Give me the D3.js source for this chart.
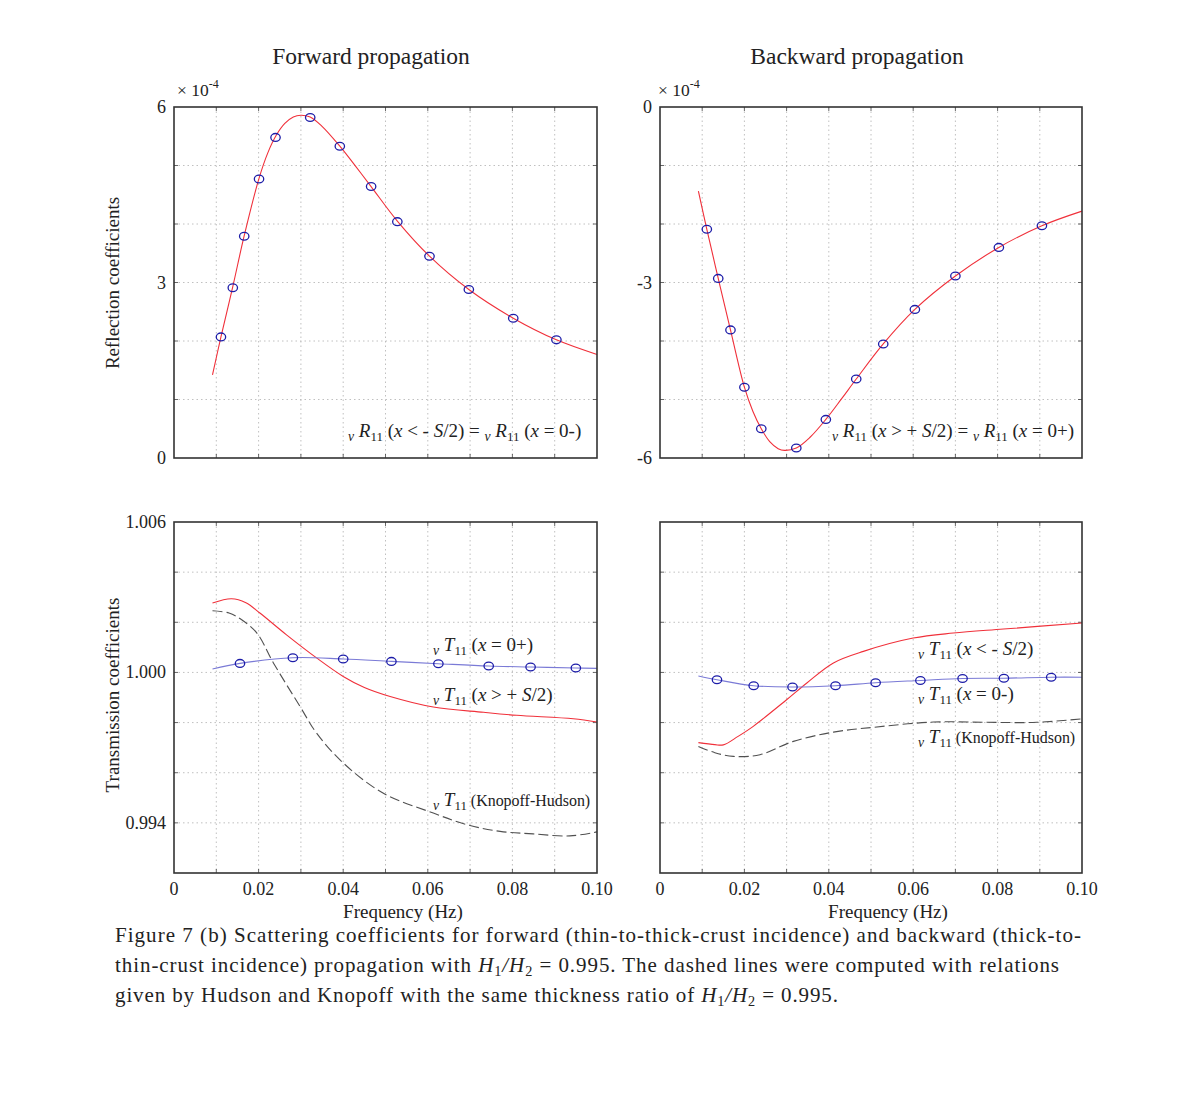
<!DOCTYPE html>
<html>
<head>
<meta charset="utf-8">
<script src="https://cdn.jsdelivr.net/npm/d3@7"></script>
<style>
  body { margin: 0; background: #fff; }
  text { font-family: "Liberation Serif", "DejaVu Serif", serif; fill: #222; }
</style>
</head>
<body>
<div id="chart"></div>
<script>
// ---- data (frequency in Hz) ----
const freqTicks = [0, 0.02, 0.04, 0.06, 0.08, 0.10];

// forward reflection (x 1e-4)
const fwdRLineF = [0.0091, 0.0111, 0.0139, 0.0166, 0.0201, 0.0222, 0.0242, 0.0262, 0.0282, 0.0300, 0.0322, 0.0350, 0.0392, 0.0430, 0.0466, 0.0528, 0.0604, 0.0697, 0.0802, 0.0904, 0.1000];
const fwdRLineV = [1.42, 2.07, 2.93, 3.80, 4.78, 5.22, 5.52, 5.72, 5.83, 5.86, 5.83, 5.67, 5.33, 4.98, 4.64, 4.05, 3.45, 2.88, 2.39, 2.02, 1.77];
const fwdRDotF = [0.0111, 0.0139, 0.0166, 0.0201, 0.0240, 0.0322, 0.0392, 0.0466, 0.0528, 0.0604, 0.0697, 0.0802, 0.0904];
const fwdRDotV = [2.07, 2.91, 3.79, 4.77, 5.48, 5.82, 5.33, 4.64, 4.04, 3.45, 2.88, 2.39, 2.02];

// backward reflection (x 1e-4)
const bwdRLineF = [0.0091, 0.0111, 0.0138, 0.0167, 0.0200, 0.0220, 0.0240, 0.0260, 0.0280, 0.0295, 0.0323, 0.0355, 0.0393, 0.0430, 0.0465, 0.0529, 0.0604, 0.0700, 0.0803, 0.0905, 0.1000];
const bwdRLineV = [-1.44, -2.09, -2.93, -3.81, -4.79, -5.20, -5.50, -5.72, -5.84, -5.87, -5.83, -5.65, -5.34, -4.99, -4.65, -4.05, -3.46, -2.89, -2.40, -2.03, -1.78];
const bwdRDotF = [0.0111, 0.0138, 0.0167, 0.0200, 0.0240, 0.0323, 0.0393, 0.0465, 0.0529, 0.0604, 0.0700, 0.0803, 0.0905];
const bwdRDotV = [-2.09, -2.93, -3.81, -4.79, -5.50, -5.83, -5.34, -4.65, -4.05, -3.46, -2.89, -2.40, -2.03];

// forward transmission
const fwdTPlusF = [0.0091, 0.0136, 0.0170, 0.0203, 0.0266, 0.0337, 0.0400, 0.0450, 0.0511, 0.0613, 0.0732, 0.0810, 0.0944, 0.1000];
const fwdTPlusV = [1.00277, 1.00294, 1.00278, 1.00237, 1.00150, 1.00058, 0.99984, 0.99940, 0.99904, 0.99862, 0.99841, 0.99829, 0.99815, 0.99802];
const fwdT0F = [0.0091, 0.0156, 0.0281, 0.0400, 0.0514, 0.0625, 0.0744, 0.0843, 0.0950, 0.1000];
const fwdT0V = [1.000136, 1.000360, 1.000587, 1.000535, 1.000440, 1.000348, 1.000255, 1.000216, 1.000176, 1.000160];
const fwdT0DotF = [0.0156, 0.0281, 0.0400, 0.0514, 0.0625, 0.0744, 0.0843, 0.0950];
const fwdT0DotV = [1.000360, 1.000587, 1.000535, 1.000440, 1.000348, 1.000255, 1.000216, 1.000176];
const fwdKHF = [0.0091, 0.0130, 0.0160, 0.0196, 0.0235, 0.0298, 0.0337, 0.0400, 0.0494, 0.0613, 0.0692, 0.0771, 0.0849, 0.0936, 0.1000];
const fwdKHV = [1.00246, 1.00237, 1.00210, 1.00157, 1.00038, 0.99864, 0.99758, 0.99639, 0.99519, 0.99439, 0.99393, 0.99366, 0.99356, 0.99348, 0.99364];

// backward transmission
const bwdTMinusF = [0.0091, 0.0130, 0.0150, 0.0185, 0.0221, 0.0300, 0.0348, 0.0411, 0.0482, 0.0600, 0.0695, 0.0814, 0.1000];
const bwdTMinusV = [0.99720, 0.99712, 0.99711, 0.99745, 0.99785, 0.99891, 0.99958, 1.00038, 1.00084, 1.00137, 1.00157, 1.00173, 1.00197];
const bwdT0F = [0.0091, 0.0135, 0.0222, 0.0314, 0.0416, 0.0511, 0.0617, 0.0717, 0.0815, 0.0927, 0.1000];
const bwdT0V = [0.99986, 0.99971, 0.99947, 0.99942, 0.99947, 0.99959, 0.99968, 0.99976, 0.99977, 0.99981, 0.99981];
const bwdT0DotF = [0.0135, 0.0222, 0.0314, 0.0416, 0.0511, 0.0617, 0.0717, 0.0815, 0.0927];
const bwdT0DotV = [0.99971, 0.99947, 0.99942, 0.99947, 0.99959, 0.99968, 0.99976, 0.99977, 0.99981];
const bwdKHF = [0.0091, 0.0130, 0.0174, 0.0237, 0.0316, 0.0411, 0.0505, 0.0648, 0.0774, 0.0893, 0.1000];
const bwdKHV = [0.99705, 0.99680, 0.99665, 0.99672, 0.99725, 0.99762, 0.99781, 0.99802, 0.99801, 0.99801, 0.99815];

// y ticks
const reflFwdTicks = [0, 3, 6];
const reflBwdTicks = [-6, -3, 0];
const transTicks = [0.994, 1.000, 1.006];

(() => {
    const svg = d3.select("#chart").append("svg")
        .attr("width", 1200)
        .attr("height", 1094);

    const zip = (fs, vs) => fs.map((f, i) => ({ f, v: vs[i] }));

    // text with italic / subscript runs: parts = [[text, style]]
    function rich(g, x, y, parts, size) {
        const t = g.append("text").attr("x", x).attr("y", y).style("font-size", size + "px");
        let shift = 0;
        parts.forEach(([s, st]) => {
            const sp = t.append("tspan").text(s);
            let want = 0;
            if (st.includes("i")) sp.style("font-style", "italic");
            if (st.includes("v")) { want = 4; sp.style("font-size", (size * 0.72) + "px"); }
            if (st.includes("s")) { want = 4; sp.style("font-size", (size * 0.68) + "px"); }
            if (st.includes("k")) sp.style("font-size", (size * 0.84) + "px");
            if (want !== shift) { sp.attr("dy", want - shift); shift = want; }
        });
        return t;
    }

    function panel(box, yDomain, yTickVals, yFmt, showX) {
        const x = d3.scaleLinear().domain([0, 0.1]).range([box.x0, box.x1]);
        const y = d3.scaleLinear().domain(yDomain).range([box.y1, box.y0]);
        const g = svg.append("g");

        const xGrid = d3.range(1, 10).map(i => i * 0.01);
        const step = (yDomain[1] - yDomain[0]) / box.ny;
        const yGrid = d3.range(1, box.ny).map(i => yDomain[0] + i * step);

        // dotted grid
        g.selectAll(".gx").data(xGrid).enter().append("line")
            .attr("x1", d => x(d)).attr("x2", d => x(d))
            .attr("y1", box.y0).attr("y2", box.y1)
            .attr("stroke", "#b0b0b0").attr("stroke-width", 0.8)
            .attr("stroke-dasharray", "1.5,3");
        g.selectAll(".gy").data(yGrid).enter().append("line")
            .attr("x1", box.x0).attr("x2", box.x1)
            .attr("y1", d => y(d)).attr("y2", d => y(d))
            .attr("stroke", "#b0b0b0").attr("stroke-width", 0.8)
            .attr("stroke-dasharray", "1.5,3");

        // inward ticks on all four sides
        const tk = 4;
        [box.y1, box.y0].forEach((yy, k) => {
            g.selectAll(null).data(xGrid).enter().append("line")
                .attr("x1", d => x(d)).attr("x2", d => x(d))
                .attr("y1", yy).attr("y2", k ? yy + tk : yy - tk)
                .attr("stroke", "#444").attr("stroke-width", 0.8);
        });
        [box.x0, box.x1].forEach((xx, k) => {
            g.selectAll(null).data(yGrid).enter().append("line")
                .attr("x1", xx).attr("x2", k ? xx - tk : xx + tk)
                .attr("y1", d => y(d)).attr("y2", d => y(d))
                .attr("stroke", "#444").attr("stroke-width", 0.8);
        });

        // y tick labels
        if (yTickVals) {
            g.selectAll(".yl").data(yTickVals).enter().append("text")
                .attr("x", box.x0 - 8)
                .attr("y", d => y(d) + 6)
                .attr("text-anchor", "end")
                .style("font-size", "18px")
                .text(yFmt);
        }
        // x tick labels
        if (showX) {
            g.selectAll(".xl").data(freqTicks).enter().append("text")
                .attr("x", d => x(d))
                .attr("y", box.y1 + 22)
                .attr("text-anchor", "middle")
                .style("font-size", "18px")
                .text(d => d === 0 ? "0" : d.toFixed(2));
        }
        return { g, x, y };
    }

    function line(p, data, color, dash) {
        p.g.append("path")
            .datum(data)
            .attr("fill", "none")
            .attr("stroke", color)
            .attr("stroke-width", 1.1)
            .attr("stroke-dasharray", dash || null)
            .attr("d", d3.line().x(d => p.x(d.f)).y(d => p.y(d.v)).curve(d3.curveCatmullRom));
    }

    function dots(p, data) {
        p.g.selectAll(null).data(data).enter().append("ellipse")
            .attr("cx", d => p.x(d.f)).attr("cy", d => p.y(d.v))
            .attr("rx", 4.7).attr("ry", 3.9)
            .attr("fill", "none").attr("stroke", "#1c1ca8").attr("stroke-width", 1.3);
    }

    function frame(box) {
        svg.append("rect")
            .attr("x", box.x0).attr("y", box.y0)
            .attr("width", box.x1 - box.x0).attr("height", box.y1 - box.y0)
            .attr("fill", "none").attr("stroke", "#333").attr("stroke-width", 1.6);
    }

    const boxTL = { x0: 174, x1: 597, y0: 107, y1: 458, ny: 6 };
    const boxTR = { x0: 660, x1: 1082, y0: 107, y1: 458, ny: 6 };
    const boxBL = { x0: 174, x1: 597, y0: 522, y1: 873, ny: 7 };
    const boxBR = { x0: 660, x1: 1082, y0: 522, y1: 873, ny: 7 };

    const red = "#f0303a", blue = "#7a7ad6", gray = "#505050";

    // Top left: forward reflection
    const tl = panel(boxTL, [0, 6], reflFwdTicks, d => d3.format("d")(d), false);
    line(tl, zip(fwdRLineF, fwdRLineV), red);
    dots(tl, zip(fwdRDotF, fwdRDotV));
    frame(boxTL);

    // Top right: backward reflection
    const tr = panel(boxTR, [-6, 0], reflBwdTicks, d => d3.format("d")(d).replace("\u2212", "-"), false);
    line(tr, zip(bwdRLineF, bwdRLineV), red);
    dots(tr, zip(bwdRDotF, bwdRDotV));
    frame(boxTR);

    // Bottom left: forward transmission
    const bl = panel(boxBL, [0.992, 1.006], transTicks, d => d.toFixed(3), true);
    line(bl, zip(fwdKHF, fwdKHV), gray, "10,4");
    line(bl, zip(fwdTPlusF, fwdTPlusV), red);
    line(bl, zip(fwdT0F, fwdT0V), blue);
    dots(bl, zip(fwdT0DotF, fwdT0DotV));
    frame(boxBL);

    // Bottom right: backward transmission
    const br = panel(boxBR, [0.992, 1.006], null, null, true);
    line(br, zip(bwdKHF, bwdKHV), gray, "10,4");
    line(br, zip(bwdTMinusF, bwdTMinusV), red);
    line(br, zip(bwdT0F, bwdT0V), blue);
    dots(br, zip(bwdT0DotF, bwdT0DotV));
    frame(boxBR);

    // Titles
    svg.append("text").attr("x", 371).attr("y", 64).attr("text-anchor", "middle")
        .style("font-size", "23.5px").text("Forward propagation");
    svg.append("text").attr("x", 857).attr("y", 64).attr("text-anchor", "middle")
        .style("font-size", "23.5px").text("Backward propagation");

    // exponent labels
    [177, 658].forEach(px => {
        const t = svg.append("text").attr("x", px).attr("y", 96).style("font-size", "17.5px");
        t.append("tspan").text("\u00d7 10");
        t.append("tspan").attr("dy", -8).style("font-size", "12px").text("-4");
    });

    // axis labels
    svg.append("text").attr("transform", "translate(119,283) rotate(-90)")
        .attr("text-anchor", "middle").style("font-size", "19px").text("Reflection coefficients");
    svg.append("text").attr("transform", "translate(119,695) rotate(-90)")
        .attr("text-anchor", "middle").style("font-size", "19px").text("Transmission coefficients");
    svg.append("text").attr("x", 403).attr("y", 918).attr("text-anchor", "middle")
        .style("font-size", "19px").text("Frequency (Hz)");
    svg.append("text").attr("x", 888).attr("y", 918).attr("text-anchor", "middle")
        .style("font-size", "19px").text("Frequency (Hz)");

    // curve annotations
    rich(svg, 348, 437, [["v", "iv"], [" R", "i"], ["11", "s"], [" (", ""], ["x", "i"], [" < - ", ""], ["S", "i"], ["/2) = ", ""],
        ["v", "iv"], [" R", "i"], ["11", "s"], [" (", ""], ["x", "i"], [" = 0-)", ""]], 19);
    rich(svg, 832, 437, [["v", "iv"], [" R", "i"], ["11", "s"], [" (", ""], ["x", "i"], [" > + ", ""], ["S", "i"], ["/2) = ", ""],
        ["v", "iv"], [" R", "i"], ["11", "s"], [" (", ""], ["x", "i"], [" = 0+)", ""]], 19);

    rich(svg, 433, 651, [["v", "iv"], [" T", "i"], ["11", "s"], [" (", ""], ["x", "i"], [" = 0+)", ""]], 19);
    rich(svg, 433, 701, [["v", "iv"], [" T", "i"], ["11", "s"], [" (", ""], ["x", "i"], [" > + ", ""], ["S", "i"], ["/2)", ""]], 19);
    rich(svg, 433, 806, [["v", "iv"], [" T", "i"], ["11", "s"], [" (Knopoff-Hudson)", "k"]], 19);

    rich(svg, 918, 655, [["v", "iv"], [" T", "i"], ["11", "s"], [" (", ""], ["x", "i"], [" < - ", ""], ["S", "i"], ["/2)", ""]], 19);
    rich(svg, 918, 700, [["v", "iv"], [" T", "i"], ["11", "s"], [" (", ""], ["x", "i"], [" = 0-)", ""]], 19);
    rich(svg, 918, 743, [["v", "iv"], [" T", "i"], ["11", "s"], [" (Knopoff-Hudson)", "k"]], 19);

    // caption
    svg.append("text").attr("x", 115).attr("y", 942).style("font-size", "21px")
        .attr("textLength", 966).attr("lengthAdjust", "spacing")
        .text("Figure 7 (b) Scattering coefficients for forward (thin-to-thick-crust incidence) and backward (thick-to-");
    rich(svg, 115, 972, [["thin-crust incidence) propagation with ", ""], ["H", "i"], ["1", "s"], ["/", "i"], ["H", "i"], ["2", "s"],
        [" = 0.995. The dashed lines were computed with relations", ""]], 21)
        .attr("textLength", 944).attr("lengthAdjust", "spacing");
    rich(svg, 115, 1002, [["given by Hudson and Knopoff with the same thickness ratio of ", ""], ["H", "i"], ["1", "s"], ["/", "i"], ["H", "i"], ["2", "s"],
        [" = 0.995.", ""]], 21)
        .attr("textLength", 723).attr("lengthAdjust", "spacing");
})();
</script>
</body>
</html>
